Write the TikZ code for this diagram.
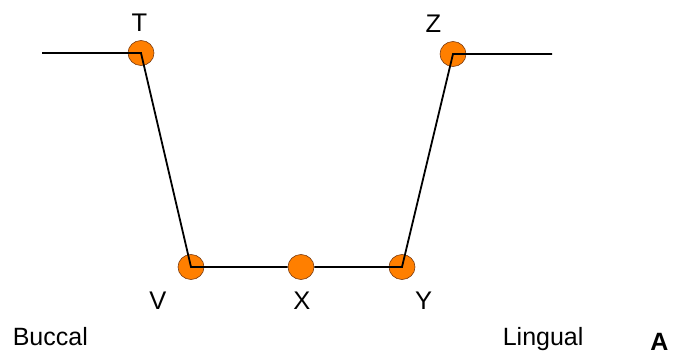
\documentclass[tikz,border=0pt]{standalone}
\usepackage{fontspec}
\setmainfont{Liberation Sans}
\usetikzlibrary{positioning, shapes.geometric}
\definecolor{corange}{HTML}{FF7F00}
\definecolor{cedge}{HTML}{7A3A10}
\tikzset{
  every picture/.style={line width=1.6pt},
  pt/.style={ellipse, draw=cedge, line width=0.6pt, fill=corange, minimum width=26pt, minimum height=25pt, inner sep=0pt},
  wall/.style={draw=black, line width=1.8pt},
  lbl/.style={font=\fontsize{25.5}{28}\selectfont, inner sep=0pt},
  side/.style={font=\fontsize{25}{28}\selectfont, inner sep=0pt},
}
\begin{document}
\begin{tikzpicture}[x=1pt, y=-1pt]
  \useasboundingbox (0,0) rectangle (680,356);
  % points of the outline
  \node[pt] (T) at (141,53) {};
  \node[pt] (Z) at (453,54) {};
  \node[pt] (V) at (191,267) {};
  \node[pt] (X) at (301,267) {};
  \node[pt] (Y) at (402,267) {};
  \coordinate (left) at (42,53);
  \coordinate (right) at (552,54);
  \draw[wall] (left) -- (T.center) -- (V.center) -- (X) -- (Y.center) -- (Z.center) -- (right);
  % labels
  \node[lbl] (lT) at (139.5,22.5) {T};
  \node[lbl] (lZ) at (433.5,24) {Z};
  \node[lbl] (lV) at (158,301) {V};
  \node[lbl] (lX) at (302,301) {X};
  \node[lbl] (lY) at (423.5,301) {Y};
  \node[side, anchor=base west] (buccal) at (12,345) {Buccal};
  \node[side, anchor=base west] (lingual) at (502,345) {Lingual};
  \node[font=\fontsize{25}{28}\selectfont\bfseries, inner sep=0pt, anchor=base] (A) at (659.5,350) {A};
\end{tikzpicture}
\end{document}
